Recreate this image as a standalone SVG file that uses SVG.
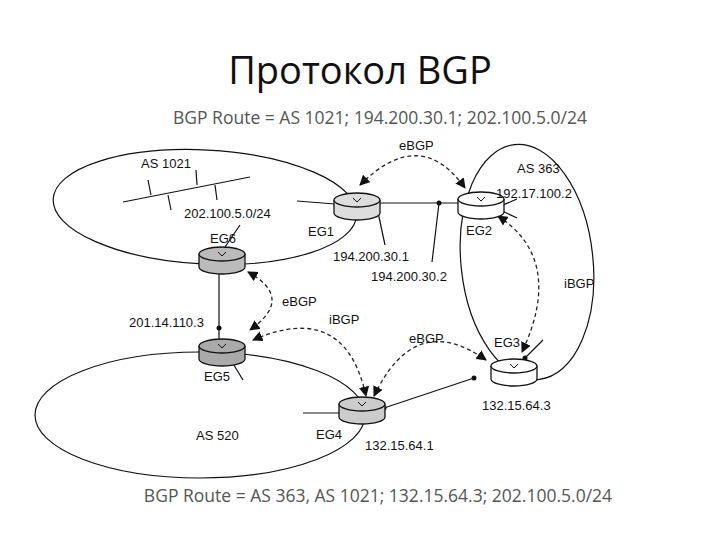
<svg xmlns="http://www.w3.org/2000/svg" width="720" height="540" viewBox="0 0 720 540">
<style>
.t{font-family:"Liberation Sans",Arial,sans-serif;font-size:13px;fill:#111}
.h{font-family:"Open Sans","Liberation Sans",sans-serif;fill:#555;font-size:17.5px}
.ln{stroke:#111;stroke-width:1.2;fill:none}
.ds{stroke:#222;stroke-width:1.3;fill:none;stroke-dasharray:4 3;marker-start:url(#a);marker-end:url(#a)}
.dot{fill:#111}
</style>
<defs>
<marker id="a" viewBox="0 0 10 10" refX="9" refY="5" markerWidth="8" markerHeight="8" orient="auto-start-reverse"><path d="M0,0L10,5L0,10z" fill="#111"/></marker>
<g id="r"><path d="M-23,-6 V7 A23,7 0 0 0 23,7 V-6" fill="inherit" stroke="#111" stroke-width="1.3"/><ellipse cx="0" cy="-6" rx="23" ry="7" fill="inherit" stroke="#111" stroke-width="1.3"/><path d="M-4,-8 L0,-4 L4,-8" stroke="#111" fill="none"/></g>
</defs>
<rect width="720" height="540" fill="#fff"/>
<text x="360" y="84" text-anchor="middle" font-family="'Open Sans','Liberation Sans',sans-serif" font-size="38" fill="#111">Протокол BGP</text>
<text class="h" x="380" y="124" text-anchor="middle">BGP Route = AS 1021; 194.200.30.1; 202.100.5.0/24</text>
<text class="h" x="378" y="502" text-anchor="middle">BGP Route = AS 363, AS 1021; 132.15.64.3; 202.100.5.0/24</text>
<g id="areas">
<ellipse class="ln" cx="205" cy="207" rx="152" ry="57" transform="rotate(3 205 207)"/>
<ellipse class="ln" cx="527" cy="262" rx="66" ry="118" transform="rotate(-6 527 262)"/>
<ellipse class="ln" cx="200" cy="415" rx="165" ry="63"/>
</g>
<g id="connectors">
<path class="ln" d="M123,202 L250,177 M148,180 L151,195 M168,195 L171,210 M196,170 L197,185 M215,185 L217,200"/>
<path class="ln" d="M297,201 L335,204 M377,203 L460,203 M376,203 L385,245 M439,203 L432,262 M496,208 L517,199 M496,208 L517,218 M225,247 L240,225 M219,273 L219,339 M232,362 L243,380 M303,413 L340,413 M384,408 L474,378 M525,358 L543,340"/>
<circle class="dot" cx="376" cy="203" r="2.5"/><circle class="dot" cx="439" cy="203" r="2.5"/><circle class="dot" cx="496" cy="208" r="2.5"/><circle class="dot" cx="219" cy="328" r="2.5"/><circle class="dot" cx="384" cy="408" r="2.5"/><circle class="dot" cx="474" cy="378" r="2.5"/><circle class="dot" cx="525" cy="358" r="2.5"/>
<path class="ds" d="M360,185 Q420,125 465,188"/>
<path class="ds" d="M498,216 Q565,260 522,352"/>
<path class="ds" d="M248,272 Q295,298 250,330"/>
<path class="ds" d="M253,340 Q345,300 366,396"/>
<path class="ds" d="M374,396 Q415,310 486,360"/>
</g>
<g id="EG1" fill="#ddd"><use href="#r" x="357" y="206"/><text class="t" x="308" y="236">EG1</text></g>
<g id="EG2" fill="#fff"><use href="#r" x="481" y="205"/><text class="t" x="466" y="235">EG2</text></g>
<g id="EG6" fill="#bbb"><use href="#r" x="222" y="260"/><text class="t" x="210" y="243">EG6</text></g>
<g id="EG5" fill="#aaa"><use href="#r" x="222" y="352"/><text class="t" x="204" y="381">EG5</text></g>
<g id="EG4" fill="#ccc"><use href="#r" x="362" y="410"/><text class="t" x="316" y="439">EG4</text></g>
<g id="EG3" fill="#fff"><use href="#r" x="514" y="372"/><text class="t" x="494" y="347">EG3</text></g>
<g id="labels">
<text class="t" x="141" y="168">AS 1021</text>
<text class="t" x="184" y="218">202.100.5.0/24</text>
<text class="t" x="333" y="261">194.200.30.1</text>
<text class="t" x="371" y="281">194.200.30.2</text>
<text class="t" x="517" y="173">AS 363</text>
<text class="t" x="496" y="198">192.17.100.2</text>
<text class="t" x="564" y="288">iBGP</text>
<text class="t" x="399" y="150">eBGP</text>
<text class="t" x="282" y="306">eBGP</text>
<text class="t" x="329" y="324">iBGP</text>
<text class="t" x="409" y="343">eBGP</text>
<text class="t" x="129" y="327">201.14.110.3</text>
<text class="t" x="196" y="440">AS 520</text>
<text class="t" x="365" y="450">132.15.64.1</text>
<text class="t" x="482" y="410">132.15.64.3</text>
</g>
</svg>
